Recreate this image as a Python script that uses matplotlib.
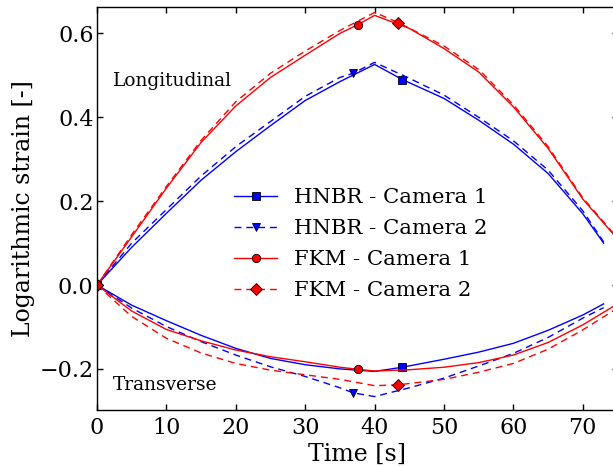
import matplotlib
import matplotlib.pyplot

matplotlib.use("agg")
matplotlib.pyplot.rcParams["font.family"] = "DejaVu Serif"
matplotlib.pyplot.rcParams["mathtext.fontset"] = "dejavuserif"

# HNBR - Camera 1
hnbr1_time = [0, 5, 10, 15, 20, 25, 30, 35, 40, 44, 50, 55, 60, 65, 70, 73]
hnbr1_long = [0, 0.09, 0.171, 0.25, 0.318, 0.38, 0.44, 0.485, 0.526, 0.49,
              0.445, 0.393, 0.336, 0.266, 0.17, 0.10]
hnbr1_trans = [0, -0.048, -0.085, -0.12, -0.151, -0.175, -0.19, -0.2, -0.206, -0.196,
               -0.177, -0.16, -0.139, -0.108, -0.0715, -0.045]

# HNBR - Camera 2
hnbr2_time = [0, 5, 10, 15, 20, 25, 30, 35, 36.9, 40, 45, 50, 55, 60, 65, 70, 73]
hnbr2_long = [0, 0.10, 0.18, 0.26, 0.33, 0.39, 0.45, 0.495, 0.505, 0.531, 0.493,
              0.453, 0.40, 0.344, 0.274, 0.177, 0.103]
hnbr2_trans = [0, -0.055, -0.099, -0.135, -0.167, -0.195, -0.218, -0.245, -0.257, -0.266,
               -0.245, -0.222, -0.193, -0.163, -0.125, -0.079, -0.054]

# FKM - Camera 1
fkm1_time = [0, 5, 10, 15, 20, 25, 30, 35, 37.6, 40, 45, 50, 55, 60, 65, 70, 75]
fkm1_long = [0, 0.115, 0.231, 0.34, 0.427, 0.495, 0.548, 0.600, 0.621, 0.643, 0.612,
             0.564, 0.508, 0.425, 0.326, 0.205, 0.11]
fkm1_trans = [0, -0.062, -0.106, -0.133, -0.155, -0.171, -0.183, -0.196, -0.201, -0.205,
              -0.202, -0.196, -0.185, -0.167, -0.137, -0.095, -0.045]

# FKM - Camera 2
fkm2_time = [0, 5, 10, 15, 20, 25, 30, 35, 40, 43.4, 50, 55, 60, 65, 70, 75]
fkm2_long = [0, 0.12, 0.235, 0.345, 0.437, 0.505, 0.558, 0.607, 0.65, 0.626,
             0.57, 0.514, 0.43, 0.33, 0.208, 0.112]
fkm2_trans = [0, -0.075, -0.127, -0.162, -0.187, -0.203, -0.214, -0.225, -0.240, -0.238,
              -0.225, -0.208, -0.187, -0.153, -0.107, -0.055]

series = [
    ("HNBR - Camera 1", hnbr1_time, hnbr1_long, hnbr1_trans, 44, "b", "-", "s"),
    ("HNBR - Camera 2", hnbr2_time, hnbr2_long, hnbr2_trans, 36.9, "b", "--", "v"),
    ("FKM - Camera 1", fkm1_time, fkm1_long, fkm1_trans, 37.6, "r", "-", "o"),
    ("FKM - Camera 2", fkm2_time, fkm2_long, fkm2_trans, 43.4, "r", "--", "D"),
]

fig = matplotlib.pyplot.figure(figsize=(6.13, 4.66), dpi=100)
# axes run a little past the right edge of the picture
ax = fig.add_axes([97 / 613, 1 - 410 / 466, (617.5 - 97) / 613, (410 - 7) / 466])

for label, t, lon, tra, mark_t, color, ls, marker in series:
    every = [0, t.index(mark_t)]
    style = dict(color=color, linestyle=ls, linewidth=1.0, marker=marker,
                 markevery=every, markersize=6 if marker != "D" else 6.5,
                 markeredgecolor="k", markeredgewidth=0.6)
    if ls == "--":
        style["dashes"] = (5, 3.5)
    ax.plot(t, lon, label=label, **style)
    ax.plot(t, tra, **style)

ax.set_xlim(0, 75)
ax.set_ylim(-0.298, 0.663)
ax.set_xticks(range(0, 80, 10))
ax.set_yticks([-0.2, 0.0, 0.2, 0.4, 0.6])

ax.tick_params(direction="in", length=4, width=1, labelsize=16, top=True, right=True)
ax.tick_params(axis="x", pad=5)
ax.tick_params(axis="y", pad=2.5)
for spine in ax.spines.values():
    spine.set_linewidth(1.0)

ax.set_xlabel("Time [s]", fontsize=17, labelpad=3)
ax.set_ylabel("Logarithmic strain [-]", fontsize=17, labelpad=3)

ax.text(2.3, 0.486, "Longitudinal", fontsize=13.4, va="center", ha="left")
ax.text(2.3, -0.238, "Transverse", fontsize=13.4, va="center", ha="left")

fig.legend(loc="center left", bbox_to_anchor=(0.351, 0.476), frameon=False,
           fontsize=15.3, handlelength=2, labelspacing=0.56, handletextpad=0.8)

fig.savefig("out.png", dpi=100)
